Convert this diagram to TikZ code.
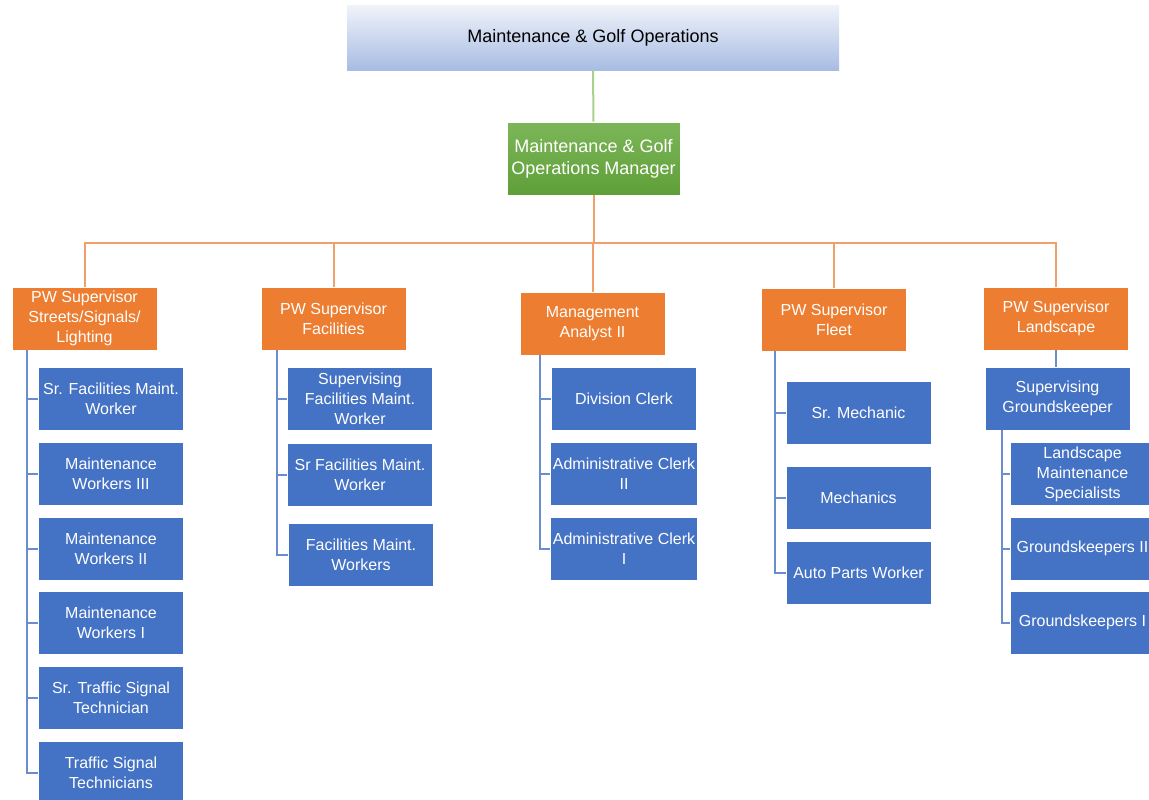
\documentclass[tikz,border=0pt]{standalone}
\usepackage{fontspec}
\setmainfont{Liberation Sans}
\usetikzlibrary{positioning}
\definecolor{boxblue}{HTML}{4472C4}
\definecolor{boxorange}{HTML}{ED7D31}
\definecolor{linkorange}{HTML}{F2A06A}
\definecolor{linkblue}{HTML}{6A8DD0}
\definecolor{linkgreen}{HTML}{A9D18E}
\definecolor{depttop}{HTML}{F0F3FA}
\definecolor{deptbottom}{HTML}{A8BCE3}
\definecolor{bosstop}{HTML}{7CB659}
\definecolor{bossbottom}{HTML}{5F9F38}
\tikzset{
  % every box of the chart
  unit/.style={draw=white, line width=0.4pt, align=center, inner sep=1pt,
    text=white, font=\fontsize{8}{10}\selectfont,
    minimum width=72.5pt, minimum height=31.5pt},
  dept/.style={unit, draw=none, text=black, font=\fontsize{9}{11}\selectfont,
    top color=depttop, bottom color=deptbottom,
    minimum width=246pt, minimum height=32.5pt}, % the title bar
  boss/.style={unit, top color=bosstop, bottom color=bossbottom,
    font=\fontsize{9}{11}\selectfont,
    minimum width=86.5pt, minimum height=36.5pt},
  sup/.style={unit, fill=boxorange},
  staff/.style={unit, fill=boxblue},
  orangelink/.style={linkorange, line width=1pt},
  bluelink/.style={linkblue, line width=1pt},
}

\begin{document}
\begin{tikzpicture}[x=0.5pt, y=-0.5pt]
    \clip (0,0) rectangle (1149,799);
    \fill[white] (0,0) rectangle (1149,799);

    \node[dept] (dept) at (593,37.5) {Maintenance \& Golf Operations};
    \node[boss] (mgr) at (593.5,158.5) {Maintenance \& Golf\\Operations Manager};

    % supervisors
    \node[sup] (streets) at (84.5,318.5) {PW Supervisor\\Streets/Signals/\\Lighting};
    \node[sup] (facil) at (333.5,318.5) {PW Supervisor\\Facilities};
    \node[sup] (analyst) at (592.5,323.5) {Management\\Analyst II};
    \node[sup] (fleet) at (834,319.5) {PW Supervisor\\Fleet};
    \node[sup] (land) at (1056,318.5) {PW Supervisor\\Landscape};

    % streets/signals/lighting
    \node[staff] (srfac) at (111,398.5) {Sr. Facilities Maint.\\Worker};
    \node[staff] (maint3) at (111,473.5) {Maintenance\\Workers III};
    \node[staff] (maint2) at (111,548.5) {Maintenance\\Workers II};
    \node[staff] (maint1) at (111,622.5) {Maintenance\\Workers I};
    \node[staff] (srsig) at (111,697.5) {Sr. Traffic Signal\\Technician};
    \node[staff] (sigtech) at (111,772.5) {Traffic Signal\\Technicians};

    % facilities
    \node[staff] (supfac) at (360,398.5) {Supervising\\Facilities Maint.\\Worker};
    \node[staff] (srfacw) at (360,475) {Sr Facilities Maint.\\Worker};
    \node[staff] (facw) at (361,554.5) {Facilities Maint.\\Workers};

    % analyst
    \node[staff] (divclerk) at (624,398.5) {Division Clerk};
    \node[staff] (adm2) at (624,473.5) {Administrative Clerk\\II};
    \node[staff] (adm1) at (624,548.5) {Administrative Clerk\\I};

    % fleet
    \node[staff] (srmech) at (858.5,412.5) {Sr. Mechanic};
    \node[staff] (mech) at (858.5,497.5) {Mechanics};
    \node[staff] (parts) at (858.5,572.5) {Auto Parts Worker};

    % landscape
    \node[staff] (supgrd) at (1057.5,398.5) {Supervising\\Groundskeeper};
    \node[staff] (lms) at (1082.5,474) {Landscape\\Maintenance\\Specialists};
    \node[staff] (grd2) at (1082.5,548.5) {Groundskeepers II};
    \node[staff] (grd1) at (1082.5,622.5) {Groundskeepers I};

    % spines of the staff columns
    \coordinate (bus) at (594,243);
    \coordinate (s1) at (27,0);
    \coordinate (s2) at (277,0);
    \coordinate (s3) at (540,0);
    \coordinate (s4) at (775,0);
    \coordinate (s5) at (1002,0);

    \draw[linkgreen, line width=1pt] (dept) -- (mgr);

    \draw[orangelink]
    (mgr.south) -- (mgr.south |- bus)
    (mgr.south |- bus) -| (streets.north)
    (mgr.south |- bus) -| (facil.north)
    (mgr.south |- bus) -| (analyst.north)
    (mgr.south |- bus) -| (fleet.north)
    (mgr.south |- bus) -| (land.north)
    ;

    \draw[bluelink]
    (streets.south -| s1) |- (srfac.west)
    (streets.south -| s1) |- (maint3.west)
    (streets.south -| s1) |- (maint2.west)
    (streets.south -| s1) |- (maint1.west)
    (streets.south -| s1) |- (srsig.west)
    (streets.south -| s1) |- (sigtech.west)

    (facil.south -| s2) |- (supfac.west)
    (facil.south -| s2) |- (srfacw.west)
    (facil.south -| s2) |- (facw.west)

    (analyst.south -| s3) |- (divclerk.west)
    (analyst.south -| s3) |- (adm2.west)
    (analyst.south -| s3) |- (adm1.west)

    (fleet.south -| s4) |- (srmech.west)
    (fleet.south -| s4) |- (mech.west)
    (fleet.south -| s4) |- (parts.west)

    (land.south) -- (land.south |- supgrd.north)
    (supgrd.south -| s5) |- (lms.west)
    (supgrd.south -| s5) |- (grd2.west)
    (supgrd.south -| s5) |- (grd1.west)
    ;
\end{tikzpicture}
\end{document}
